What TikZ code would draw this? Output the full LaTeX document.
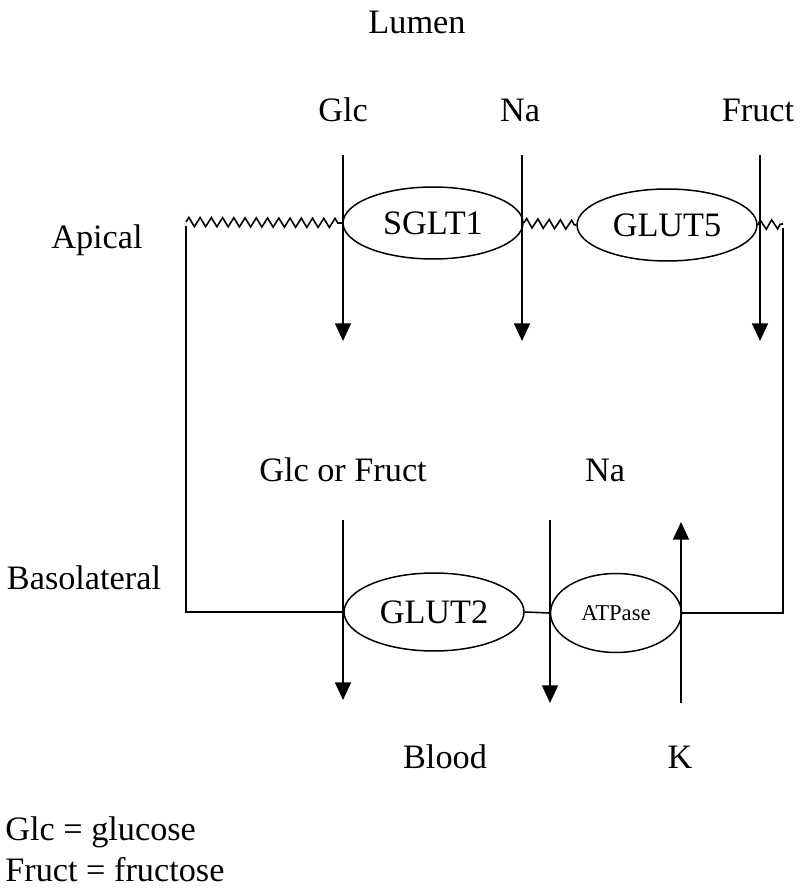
\documentclass[tikz,border=0pt]{standalone}
\usepackage{fontspec}
\setmainfont{Liberation Serif}
\usetikzlibrary{decorations.pathmorphing,arrows.meta,shapes.geometric}
\begin{document}
\begin{tikzpicture}[x=0.02cm,y=-0.02cm,
 lbl/.style={font=\fontsize{19.5}{22}\selectfont, inner sep=0},
 tp/.style={draw, ellipse, line width=0.85pt, inner sep=0, minimum width=3.6cm, minimum height=1.44cm, font=\fontsize{19.5}{22}\selectfont},
 flux/.style={line width=1.2pt, -{Triangle[width=9pt,length=10pt]}},
 memb/.style={line width=0.9pt},
 wavy/.style={memb, decorate, decoration={zigzag, segment length=6.4pt, amplitude=2.6pt}}]
\useasboundingbox (0,0) rectangle (800,891);

% labels
\node[lbl] (lumen) at (417,22) {Lumen};
\node[lbl] (glc) at (343,110) {Glc};
\node[lbl] (na1) at (520,110) {Na};
\node[lbl] (fruct) at (758,110) {Fruct};
\node[lbl] (apical) at (97,240) {Apical};
\node[lbl] (baso) at (84,578) {Basolateral};
\node[lbl] (glcfr) at (343,470) {Glc or Fruct};
\node[lbl] (na2) at (605,470) {Na};
\node[lbl] (blood) at (445,757) {Blood};
\node[lbl] (k) at (680,757) {K};
\node[lbl, anchor=west] (leg1) at (5,832) {Glc = glucose};
\node[lbl, anchor=west] (leg2) at (5,870) {Fruct = fructose};

% transporters
\node[tp] (sglt1) at (433,223) {SGLT1};
\node[tp] (glut5) at (667,225) {GLUT5};
\node[tp, minimum height=1.56cm] (glut2) at (434,612) {GLUT2};
\node[tp, minimum width=2.62cm, minimum height=1.58cm, font=\fontsize{12.9}{15}\selectfont] (atp) at (616,613) {ATPase};

% membrane / cell outline
\coordinate (tl) at (186,222);
\coordinate (tr) at (783,224);
\coordinate (bl) at (186,612);
\coordinate (br) at (783,613);
\draw[wavy] (tl) -- (sglt1.west);
\draw[wavy] (sglt1.east) -- (glut5.west);
\draw[wavy] (glut5.east) -- (tr);
\draw[memb] (186,226) -- (bl) -- (glut2.west);
\draw[memb] (glut2.east) -- (atp.west);
\draw[memb] (atp.east) -- (br) -- (783,228);

% fluxes
\coordinate (a1s) at (343,155); \coordinate (a1e) at (343,341);
\coordinate (a2s) at (522,155); \coordinate (a2e) at (522,341);
\coordinate (a3s) at (760,155); \coordinate (a3e) at (760,341);
\coordinate (b1s) at (343,520); \coordinate (b1e) at (343,700);
\coordinate (b2s) at (550,520); \coordinate (b2e) at (550,703);
\coordinate (b3s) at (681,703); \coordinate (b3e) at (681,522);
\draw[flux] (a1s) -- (a1e);
\draw[flux] (a2s) -- (a2e);
\draw[flux] (a3s) -- (a3e);
\draw[flux] (b1s) -- (b1e);
\draw[flux] (b2s) -- (b2e);
\draw[flux] (b3s) -- (b3e);
\end{tikzpicture}
\end{document}
